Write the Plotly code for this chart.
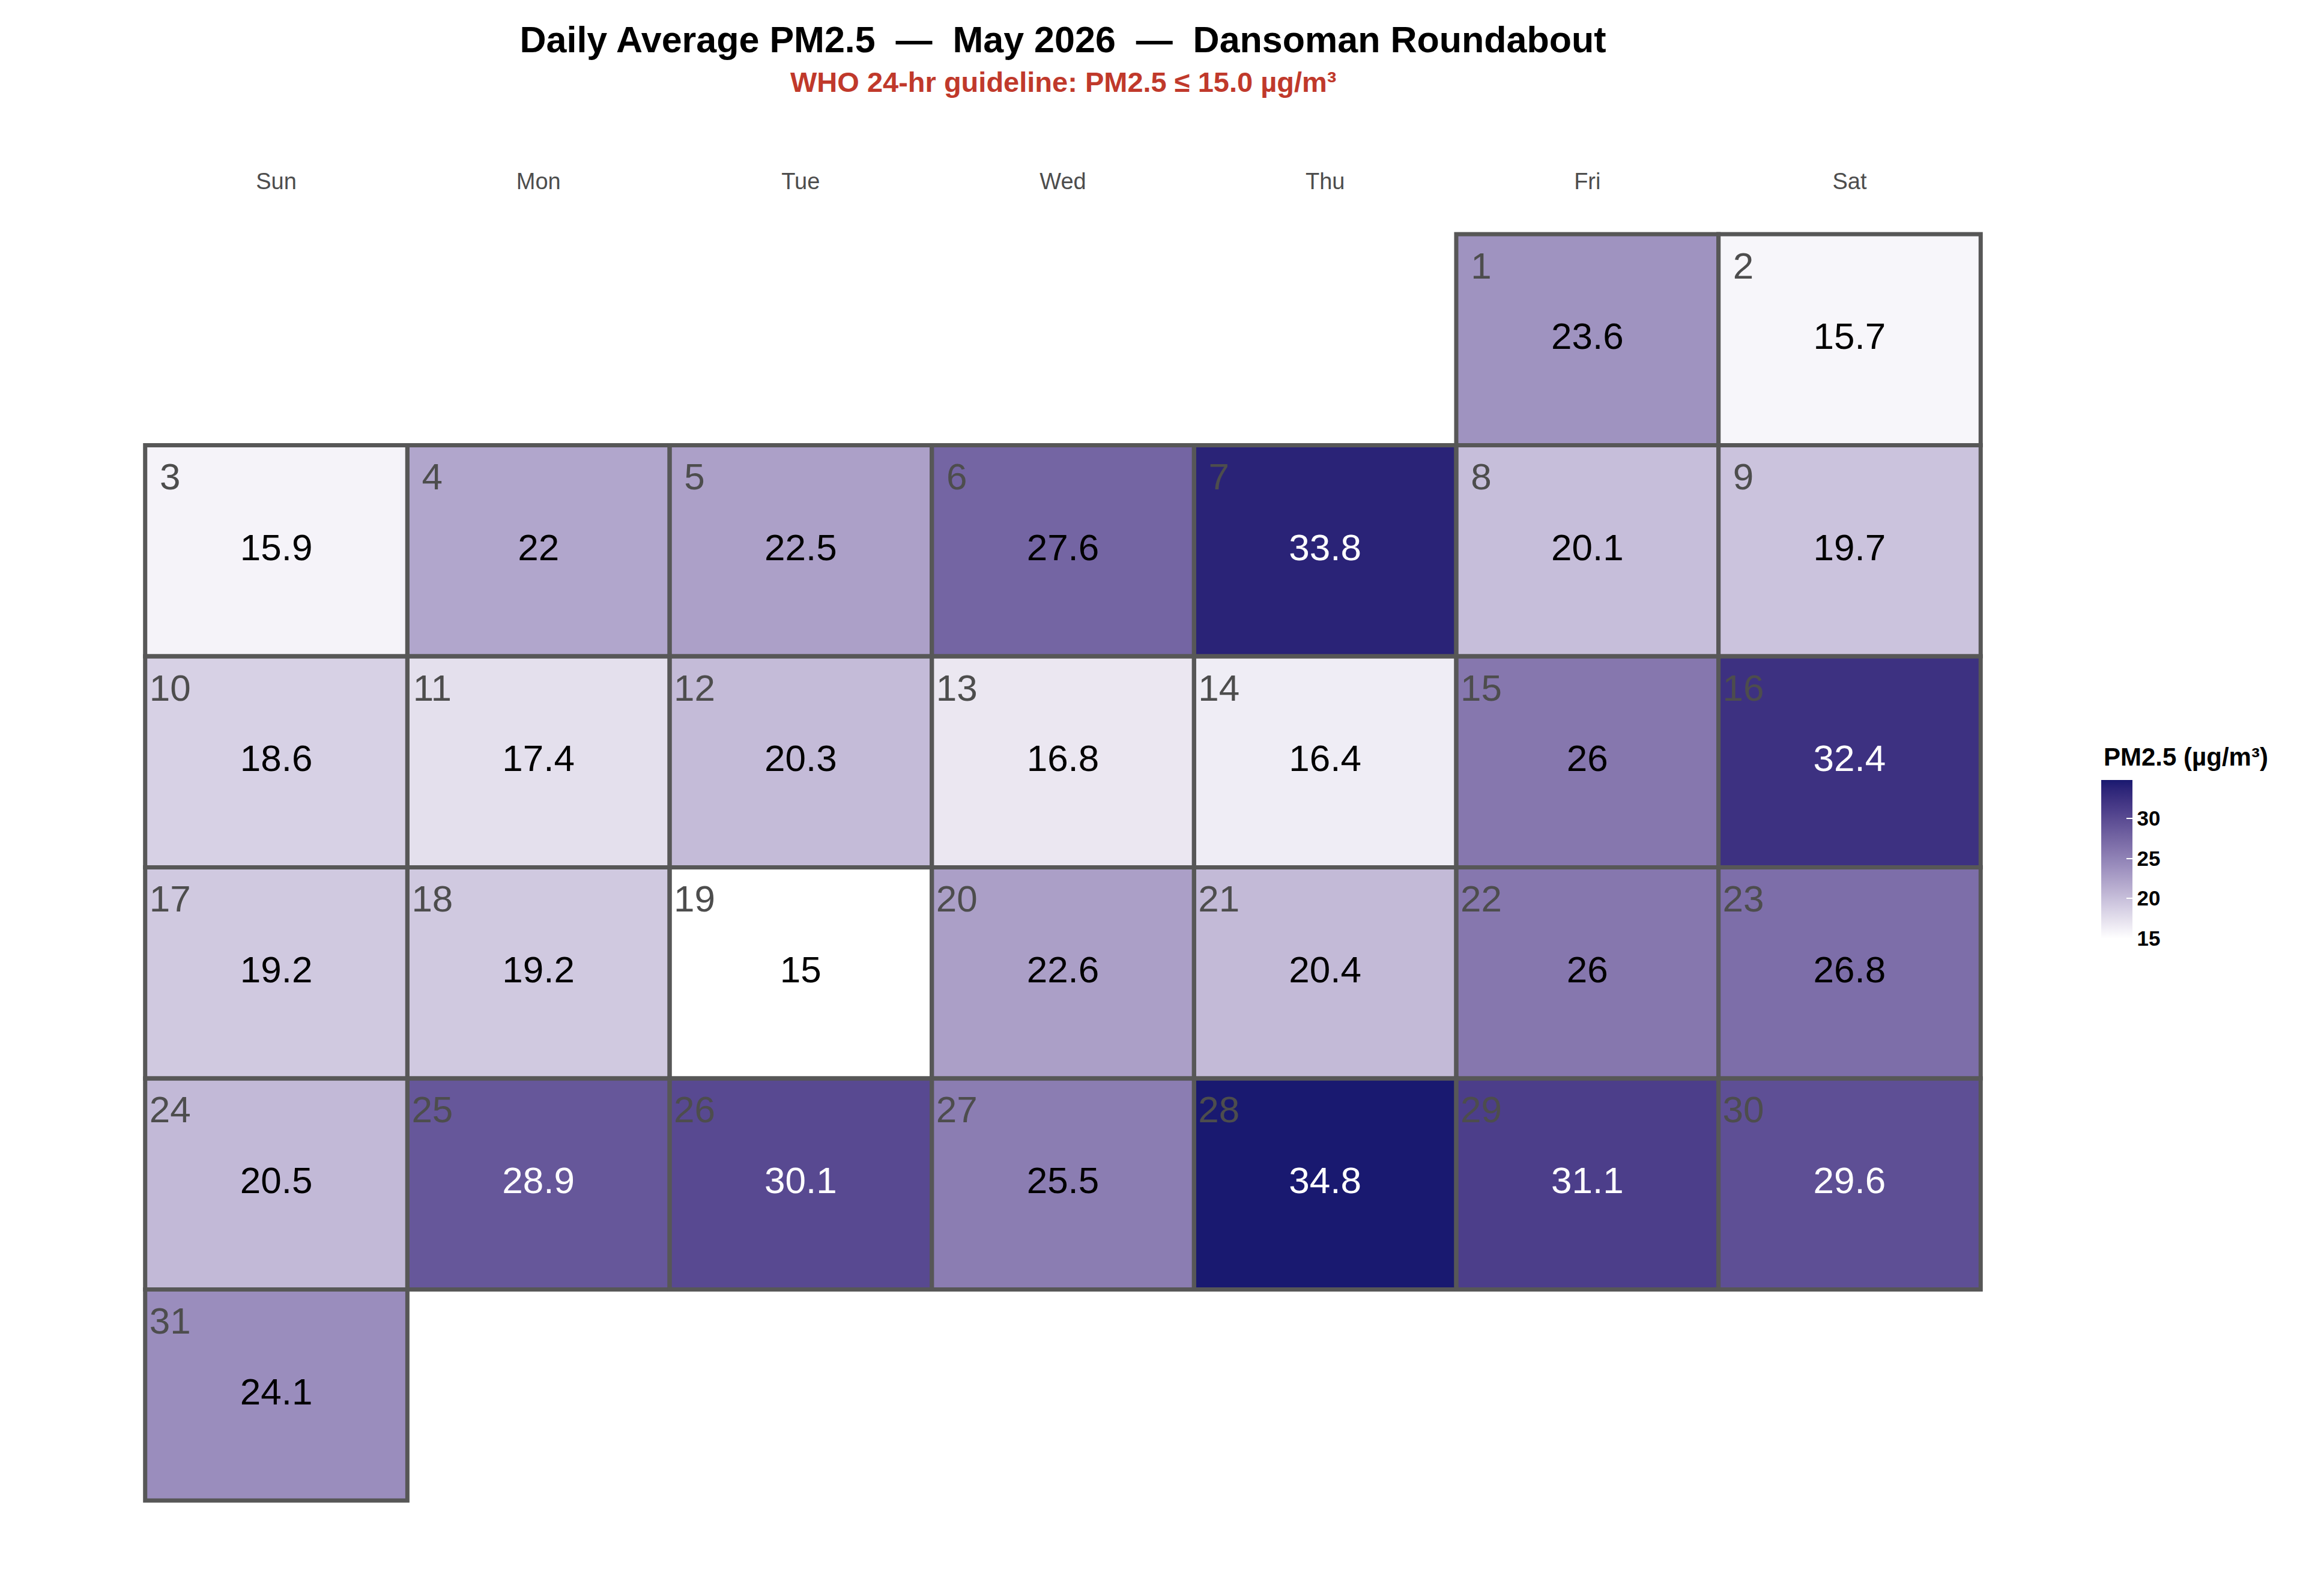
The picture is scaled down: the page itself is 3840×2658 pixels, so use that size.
import datetime
import plotly.graph_objects as go

# daily mean PM2.5, May 2026 (day 1..31)
days = list(range(1, 32))
pm25 = [23.6, 15.7, 15.9, 22, 22.5, 27.6, 33.8, 20.1, 19.7, 18.6,
        17.4, 20.3, 16.8, 16.4, 26, 32.4, 19.2, 19.2, 15, 22.6,
        20.4, 26, 26.8, 20.5, 28.9, 30.1, 25.5, 34.8, 31.1, 29.6,
        24.1]
weekdays = ["Sun", "Mon", "Tue", "Wed", "Thu", "Fri", "Sat"]
cbar_ticks = [15, 20, 25, 30]

year, month = 2026, 5
who_limit = 15.0

FONT = "Liberation Sans, Arial, sans-serif"
BORDER = "#575757"


# white -> midnightblue ramp interpolated in CIELAB (like ggplot's gradient)
def _lin(c):
    c = c / 255
    return c / 12.92 if c <= 0.04045 else ((c + 0.055) / 1.055) ** 2.4


def _gam(c):
    c = 12.92 * c if c <= 0.0031308 else 1.055 * c ** (1 / 2.4) - 0.055
    return max(0, min(255, round(c * 255)))


def to_lab(hexc):
    r, g, b = [_lin(int(hexc[i:i + 2], 16)) for i in (1, 3, 5)]
    x = (0.4124 * r + 0.3576 * g + 0.1805 * b) / 0.95047
    y = 0.2126 * r + 0.7152 * g + 0.0722 * b
    z = (0.0193 * r + 0.1192 * g + 0.9505 * b) / 1.08883
    f = lambda t: t ** (1 / 3) if t > 0.008856 else 7.787 * t + 16 / 116
    fx, fy, fz = f(x), f(y), f(z)
    return 116 * fy - 16, 500 * (fx - fy), 200 * (fy - fz)


def from_lab(L, a, b):
    fy = (L + 16) / 116
    fx = fy + a / 500
    fz = fy - b / 200
    inv = lambda t: t ** 3 if t ** 3 > 0.008856 else (t - 16 / 116) / 7.787
    x, y, z = inv(fx) * 0.95047, inv(fy), inv(fz) * 1.08883
    r = 3.2406 * x - 1.5372 * y - 0.4986 * z
    g = -0.9689 * x + 1.8758 * y + 0.0415 * z
    bb = 0.0557 * x - 0.2040 * y + 1.0570 * z
    return "rgb(%d,%d,%d)" % (_gam(r), _gam(g), _gam(bb))


lo, hi = to_lab("#FFFFFF"), to_lab("#191970")
n = 20
colorscale = [[i / n, from_lab(*[lo[k] + (hi[k] - lo[k]) * i / n for k in range(3)])]
              for i in range(n + 1)]

# calendar positions
first = datetime.date(year, month, 1)
first_col = (first.weekday() + 1) % 7
cols = [(first_col + d - 1) % 7 for d in days]
rows = [(first_col + d - 1) // 7 for d in days]
n_rows = max(rows) + 1

z = [[None] * 7 for _ in range(n_rows)]
for c, r, v in zip(cols, rows, pm25):
    z[r][c] = v

fig = go.Figure()
fig.add_trace(go.Heatmap(
    z=z, x=list(range(7)), y=list(range(n_rows)),
    colorscale=colorscale, zmin=min(pm25), zmax=max(pm25),
    hoverinfo="skip",
    colorbar=dict(
        x=1.0625, xanchor="left", xpad=0, y=0.5064, yanchor="middle", ypad=0,
        thickness=52, len=264, lenmode="pixels",
        tickvals=cbar_ticks, ticktext=["<b>%d</b>" % t for t in cbar_ticks],
        ticks="inside", ticklen=10, tickcolor="white", tickwidth=2,
        tickfont=dict(size=35, color="black", family=FONT),
        outlinewidth=0,
    ),
))

# tile borders
for c, r in zip(cols, rows):
    fig.add_shape(type="rect", x0=c - 0.5, x1=c + 0.5, y0=r - 0.5, y1=r + 0.5,
                  line=dict(color=BORDER, width=7), fillcolor="rgba(0,0,0,0)",
                  layer="above")

# day numbers (top-left) and values (centre)
fig.add_trace(go.Scatter(
    x=[c - 0.405 for c in cols], y=[r - 0.335 for r in rows],
    mode="text", text=[str(d) for d in days],
    textfont=dict(size=62, color="#4d4d4d", family=FONT),
    textposition="middle center", hoverinfo="skip", showlegend=False,
))
fig.add_trace(go.Scatter(
    x=cols, y=rows, mode="text",
    text=["%g" % v for v in pm25],
    textfont=dict(size=62, family=FONT,
                  color=["white" if v > 28 else "black" for v in pm25]),
    textposition="middle center", hoverinfo="skip", showlegend=False,
))

fig.add_annotation(
    text="<b>WHO 24-hr guideline: PM2.5 ≤ %.1f µg/m³</b>" % who_limit,
    xref="paper", yref="paper", x=0.5, y=1.116,
    xanchor="center", yanchor="middle",
    showarrow=False, font=dict(size=47, color="#c0392b", family=FONT),
)
fig.add_annotation(
    text="<b>PM2.5 (µg/m³)</b>",
    xref="paper", yref="paper", x=1.0632, y=0.5865,
    xanchor="left", yanchor="middle",
    showarrow=False, font=dict(size=42, color="black", family=FONT),
)

fig.update_layout(
    width=3840, height=2658,
    margin=dict(l=225, r=541, t=375, b=160),
    paper_bgcolor="white", plot_bgcolor="white",
    font=dict(family=FONT),
    title=dict(
        text="<b>Daily Average PM2.5\u00a0\u00a0—\u00a0\u00a0May 2026\u00a0\u00a0—\u00a0\u00a0Dansoman Roundabout</b>",
        x=0.5, xref="paper", xanchor="center", y=1 - 58 / 2658, yref="container",
        yanchor="middle", font=dict(size=61, color="black", family=FONT),
    ),
    xaxis=dict(range=[-0.52, 6.52], side="top", tickvals=list(range(7)),
               ticktext=weekdays, showgrid=False, zeroline=False, showline=False,
               ticks="", ticklabelstandoff=59,
               tickfont=dict(size=38, color="#4d4d4d", family=FONT),
               fixedrange=True),
    yaxis=dict(range=[n_rows - 0.48, -0.52], showgrid=False, zeroline=False,
               showline=False, showticklabels=False, fixedrange=True),
)

fig.write_html("out.html")
